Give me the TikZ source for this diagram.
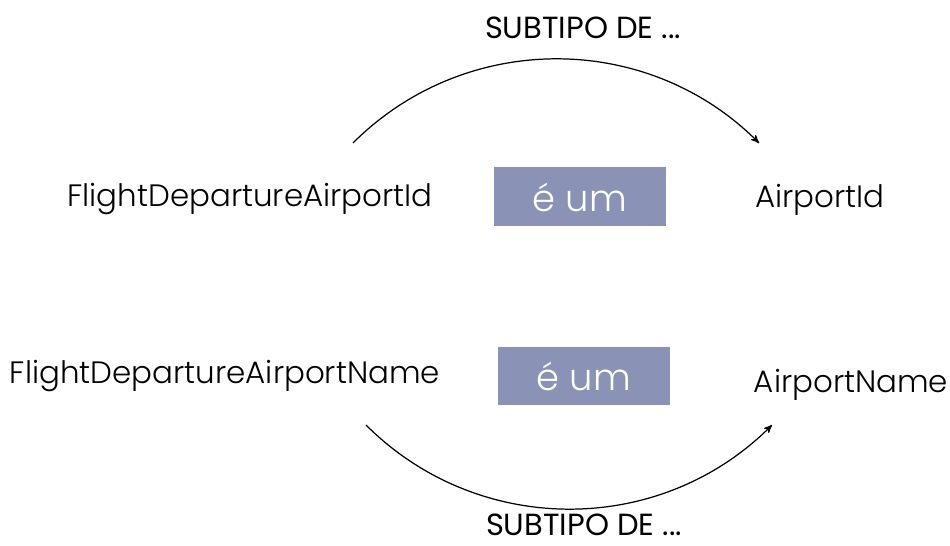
\documentclass[tikz,border=0pt]{standalone}
\usepackage{fontspec}
\IfFontExistsTF{Poppins-Light.ttf}{\setmainfont{Poppins-Light.ttf}}{%
	\IfFontExistsTF{Poppins Light}{\setmainfont{Poppins Light}}{\setmainfont{Poppins}}}
\newfontfamily\labelfont{Poppins}
\usetikzlibrary{arrows}
\definecolor{isablue}{RGB}{138,147,181}

\begin{document}
\begin{tikzpicture}
	[x=0.02cm, y=-0.02cm,
	entity/.style={font=\fontsize{17.6}{21}\selectfont},
	isa/.style={fill=isablue, text=white, minimum width=3.46cm, minimum height=1.18cm,
		font=\fontsize{21}{25}\selectfont},
	subtype/.style={font=\labelfont\fontsize{17.4}{20}\selectfont, inner sep=1pt},
	>=stealth']

	\useasboundingbox (0,0) rectangle (950,546);

	% nodes
	\node [entity] (depid) at (250,199) {FlightDepartureAirportId};
	\node [isa] (isaid) at (580,197) {é um};
	\node [entity] (airid) at (820,200) {AirportId};
	\node [entity] (depname) at (225,376) {FlightDepartureAirportName};
	\node [isa] (isaname) at (584,376) {é um};
	\node [entity] (airname) at (851,385) {AirportName};

	% arc ends
	\coordinate (idfrom) at (353,143);
	\coordinate (idto) at (759,143);
	\coordinate (namefrom) at (366,425);
	\coordinate (nameto) at (772,425);

	% curved arrows
	\draw [->, line width=0.7pt] (idfrom) to[bend left=45] (idto);
	\draw [->, line width=0.7pt] (namefrom) to[bend right=45] (nameto);

	% labels
	\node [subtype] (subid) at (583,28) {SUBTIPO DE ...};
	\node [subtype] (subname) at (584,525) {SUBTIPO DE ...};
\end{tikzpicture}
\end{document}
